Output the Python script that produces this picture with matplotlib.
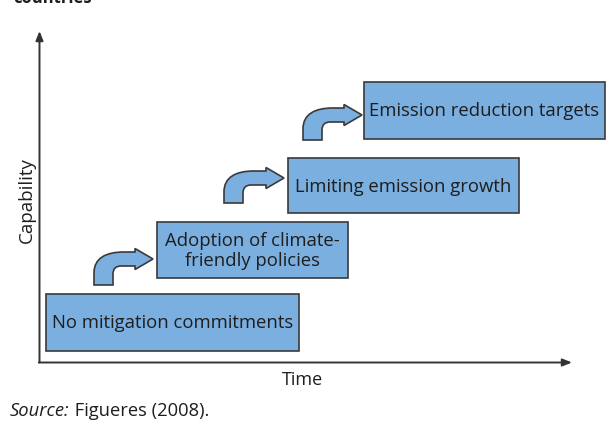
import matplotlib
matplotlib.use("Agg")
import matplotlib.pyplot as plt
from matplotlib.patches import Rectangle, PathPatch
from matplotlib.path import Path

# ---- content ----
stages = ["No mitigation commitments",
          "Adoption of climate-\nfriendly policies",
          "Limiting emission growth",
          "Emission reduction targets"]
x_label = "Time"
y_label = "Capability"
source_italic = "Source:"
source_rest = " Figueres (2008)."
top_cut_title = "countries"

# ---- layout (pixel coordinates, y downward) ----
box_left = [46, 157, 288, 364]
box_right = [299, 348, 519, 605]
box_top = [294, 222, 158, 82]
box_bottom = [351, 278, 213, 139]
arrow_stem_x = [94, 224, 303]
arrow_bottom = [285, 203, 140]
arrow_tip_x = [153, 284, 362]
arrow_tip_y = [259, 178, 115]

FILL = "#7aafe0"
EDGE = "#3a3a3a"
TXT = "#1e1e1e"
FONT = ["Open Sans", "DejaVu Sans"]

fig = plt.figure(figsize=(6.11, 4.38), dpi=100)
ax = fig.add_axes([0, 0, 1, 1])
ax.set_xlim(0, 611)
ax.set_ylim(438, 0)
ax.axis("off")

# cut-off title at top (as in the reference)
ax.text(13, 3.0, top_cut_title, fontsize=12, fontweight="bold", family=FONT,
        color=TXT, va="baseline", ha="left")

# axes with arrowheads
ax.annotate("", xy=(39.5, 31), xytext=(39.5, 362.5),
            arrowprops=dict(arrowstyle="-|>,head_length=0.55,head_width=0.22",
                            color="#333333", lw=1.4, shrinkA=0, shrinkB=0))
ax.annotate("", xy=(572, 362.5), xytext=(38.8, 362.5),
            arrowprops=dict(arrowstyle="-|>,head_length=0.55,head_width=0.22",
                            color="#333333", lw=1.4, shrinkA=0, shrinkB=0))

# boxes
for lab, l, r, t, b in zip(stages, box_left, box_right, box_top, box_bottom):
    ax.add_patch(Rectangle((l, t), r - l, b - t, facecolor=FILL,
                           edgecolor=EDGE, lw=1.2))
    ax.text((l + r) / 2, (t + b) / 2 + 1, lab, ha="center", va="center",
            fontsize=13.3, family=FONT, color=TXT, linespacing=1.2)


def bent_arrow(x0, yb, xt, yt):
    w = 19      # stem width
    hb = 7      # half band thickness
    hh = 10.5   # half head height
    hl = 18     # head length
    xh = xt - hl
    verts = [
        (x0, yb),
        (x0, yt + 14),
        (x0, yt - 1), (x0 + 12, yt - hb), (x0 + 30, yt - hb),
        (xh, yt - hb),
        (xh, yt - hh),
        (xt, yt),
        (xh, yt + hh),
        (xh, yt + hb),
        (x0 + w + 8, yt + hb),
        (x0 + w, yt + hb), (x0 + w, yt + hb + 8),
        (x0 + w, yb),
        (x0, yb),
    ]
    codes = [Path.MOVETO, Path.LINETO,
             Path.CURVE4, Path.CURVE4, Path.CURVE4,
             Path.LINETO, Path.LINETO, Path.LINETO, Path.LINETO, Path.LINETO,
             Path.LINETO,
             Path.CURVE3, Path.CURVE3,
             Path.LINETO, Path.CLOSEPOLY]
    ax.add_patch(PathPatch(Path(verts, codes), facecolor=FILL,
                           edgecolor=EDGE, lw=1.2, joinstyle="miter"))


for x0, yb, xt, yt in zip(arrow_stem_x, arrow_bottom, arrow_tip_x, arrow_tip_y):
    bent_arrow(x0, yb, xt, yt)

# axis labels
ax.text(303, 380, x_label, ha="center", va="center", fontsize=13,
        family=FONT, color=TXT)
ax.text(27, 200, y_label, ha="center", va="center", rotation=90,
        fontsize=13.5, family=FONT, color=TXT)

# source line
t1 = ax.text(10, 411, source_italic, ha="left", va="center", fontsize=13.2,
             family=FONT, style="italic", color=TXT)
fig.canvas.draw()
bb = t1.get_window_extent()
inv = ax.transData.inverted()
x_end = inv.transform((bb.x1, bb.y0))[0]
ax.text(x_end, 411, source_rest, ha="left", va="center", fontsize=13.2,
        family=FONT, color=TXT)

fig.savefig("out.png", dpi=100)
